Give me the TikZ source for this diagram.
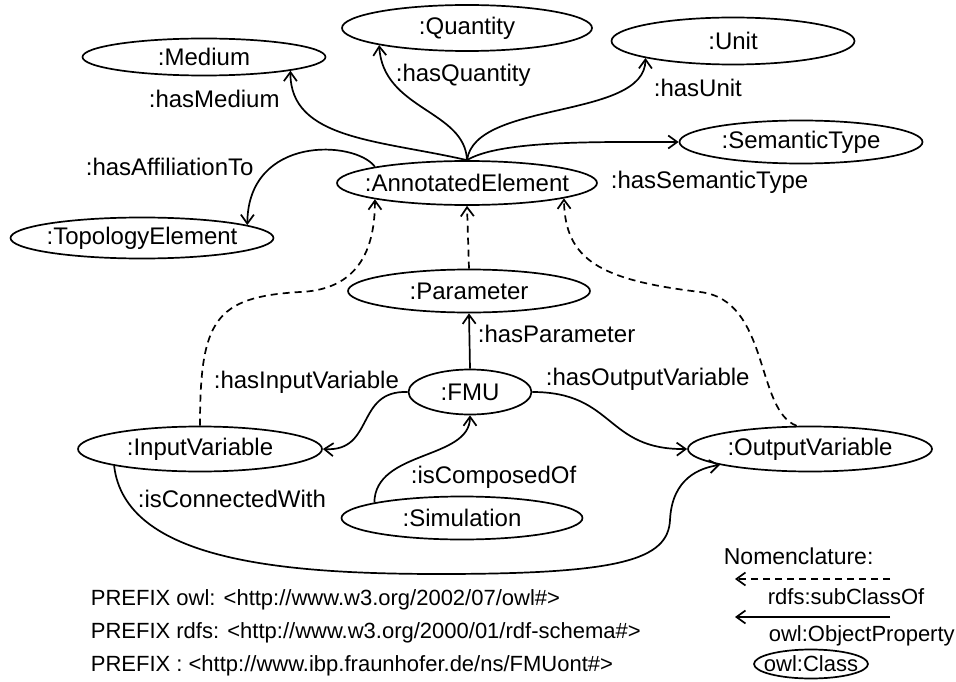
\documentclass[tikz,border=0pt]{standalone}
\usepackage{fontspec}
\setmainfont{Liberation Sans}
\usetikzlibrary{shapes.geometric, arrows.meta}

\begin{document}
\begin{tikzpicture}[x=1pt, y=-1pt, line width=1.7pt,
    font=\fontsize{24}{28}\selectfont,
    >={Straight Barb[length=9pt,width=13pt]},
    classe/.style={ellipse, draw, inner xsep=-40pt, inner ysep=-8pt,
        minimum width=243pt, minimum height=44pt},
    rotulo/.style={anchor=west, inner sep=0pt},
    pequeno/.style={font=\fontsize{22}{26}\selectfont},
    subclasse/.style={->, dash pattern=on 7pt off 5pt}]
    \useasboundingbox (0,0) rectangle (956,682);

    % classes
    \node[classe, minimum height=37pt] (medium) at (204,57) {:Medium};
    \node[classe, minimum width=250pt, minimum height=46pt] (quantity) at (467,28) {:Quantity};
    \node[classe, minimum height=47pt] (unit) at (733,41) {:Unit};
    \node[classe, minimum height=43pt] (semtype) at (801,142) {:SemanticType};
    \node[classe, minimum width=260pt] (annot) at (467,183) {:AnnotatedElement};
    \node[classe, minimum width=263pt, minimum height=41pt] (topo) at (142,238) {:TopologyElement};
    \node[classe, minimum width=242pt, minimum height=43pt] (param) at (469,291) {:Parameter};
    \node[classe, minimum width=123pt, minimum height=45pt] (fmu) at (470,392) {:FMU};
    \node[classe, minimum width=244pt, minimum height=45pt] (input) at (200,449) {:InputVariable};
    \node[classe, minimum width=244pt, minimum height=45pt] (output) at (810,449) {:OutputVariable};
    \node[classe, minimum width=241pt, minimum height=43pt] (sim) at (462,518) {:Simulation};

    % propriedades
    \draw[->] (annot.north) .. controls (380,140) and (290,140) .. (medium.-9);
    \draw[->] (annot.north) .. controls (465,110) and (383,110) .. (quantity.191);
    \draw[->] (annot.north) .. controls (475,100) and (645,120) .. (unit.191);
    \draw[->] (annot.north) .. controls (500,140) and (600,142) .. (semtype.west);
    \draw[->] (annot.170) .. controls (355,140) and (248,135) .. (topo.7);
    \draw[->] (fmu.north) -- (param.south);
    \draw[->] (fmu.west) .. controls (355,390) and (375,452) .. (input.east);
    \draw[->] (fmu.east) .. controls (615,392) and (605,450) .. (output.west);
    \draw[->] (sim.170) .. controls (375,450) and (470,460) .. (fmu.south);
    \draw[->] (input.191) .. controls (125,560) and (280,574) .. (440,574)
        .. controls (620,574) and (668,560) .. (670,520)
        .. controls (672,478) and (700,468) .. (output.190);

    % subclasses
    \draw[subclasse] (input.north) .. controls (200,320) and (215,297) .. (300,292)
        .. controls (350,290) and (375,260) .. (annot.190);
    \draw[subclasse] (param.north) -- (annot.south);
    \draw[subclasse] (output.120) .. controls (755,410) and (770,300) .. (700,292)
        .. controls (600,280) and (565,260) .. (annot.-9);

    % rótulos
    \node[rotulo] (lmedium) at (148,99) {:hasMedium};
    \node[rotulo] (lquantity) at (395,75) {:hasQuantity};
    \node[rotulo] (lunit) at (653,88) {:hasUnit};
    \node[rotulo] (laffil) at (85,167) {:hasAffiliationTo};
    \node[rotulo] (lsemtype) at (610,182) {:hasSemanticType};
    \node[rotulo] (lparam) at (477,334) {:hasParameter};
    \node[rotulo] (linput) at (213,382) {:hasInputVariable};
    \node[rotulo] (loutput) at (545,379) {:hasOutputVariable};
    \node[rotulo] (lcomp) at (410,477) {:isComposedOf};
    \node[rotulo] (lconn) at (137,499) {:isConnectedWith};

    % nomenclatura
    \node[rotulo, font=\fontsize{23}{27}\selectfont] (nomen) at (723,556) {Nomenclature:};
    \coordinate (subA) at (890,579);
    \coordinate (subB) at (735,579);
    \draw[subclasse] (subA) -- (subB);
    \node[rotulo, pequeno] (lsub) at (767,597) {rdfs:subClassOf};
    \coordinate (propA) at (890,617);
    \coordinate (propB) at (735,617);
    \draw[->] (propA) -- (propB);
    \node[rotulo, pequeno] (lprop) at (768,636) {owl:ObjectProperty};
    \node[classe, pequeno, minimum width=114pt, minimum height=29pt] (lclass) at (811,664) {owl:Class};

    % prefixos
    \node[rotulo, pequeno] (pre1) at (90,600) {PREFIX owl: <http://www.w3.org/2002/07/owl\#>};
    \node[rotulo, pequeno] (pre2) at (90,633) {PREFIX rdfs: <http://www.w3.org/2000/01/rdf-schema\#>};
    \node[rotulo, pequeno] (pre3) at (90,666) {PREFIX : <http://www.ibp.fraunhofer.de/ns/FMUont\#>};
\end{tikzpicture}
\end{document}
